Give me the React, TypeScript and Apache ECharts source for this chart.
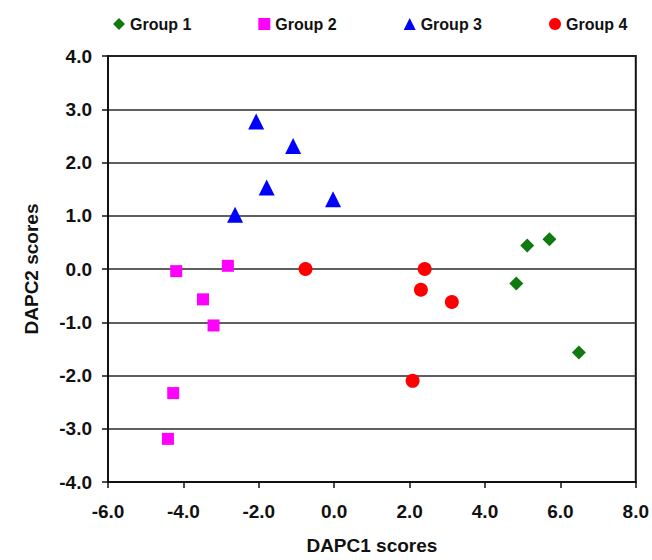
import React, { useEffect, useRef } from "react";
import * as echarts from "echarts";

const seriesNames = ["Group 1", "Group 2", "Group 3", "Group 4"];
const group1: number[][] = [[5.12, 0.44], [5.71, 0.56], [4.83, -0.27], [6.49, -1.57]];
const group2: number[][] = [[-4.19, -0.04], [-2.82, 0.06], [-3.48, -0.57], [-3.2, -1.06], [-4.27, -2.33], [-4.41, -3.19]];
const group3: number[][] = [[-2.07, 2.77], [-1.09, 2.31], [-1.79, 1.53], [-0.03, 1.31], [-2.63, 1.02]];
const group4: number[][] = [[-0.76, 0.0], [2.4, 0.0], [2.3, -0.39], [3.12, -0.62], [2.08, -2.1]];
const colors = ["#107a10", "#ff00ff", "#0000ff", "#ff0000"];
const symbols = ["diamond", "rect", "triangle", "circle"];
const sizes = [14, 12, 16, 14];

export default function App() {
  const ref = useRef<HTMLDivElement>(null);
  useEffect(() => {
    const chart = echarts.init(ref.current!, null, { renderer: "svg" });
    const font = "'Liberation Sans', Arial, sans-serif";
    const datasets = [group1, group2, group3, group4];
    chart.setOption({
      animation: false,
      backgroundColor: "#ffffff",
      textStyle: { fontFamily: font },
      legend: {
        top: 16,
        left: 113,
        padding: 0,
        itemGap: 67,
        itemWidth: 12,
        itemHeight: 12,
        textStyle: { fontFamily: font, fontWeight: "bold", fontSize: 16, color: "#111" },
        data: seriesNames.map((n, i) => ({ name: n, icon: symbols[i] })),
      },
      grid: {
        left: 108,
        right: 15,
        top: 56,
        bottom: 74,
        show: true,
        borderColor: "#111",
        borderWidth: 2,
      },
      xAxis: {
        type: "value",
        min: -6,
        max: 8,
        interval: 2,
        name: "DAPC1 scores",
        nameLocation: "middle",
        nameGap: 54,
        nameTextStyle: { fontFamily: font, fontWeight: "bold", fontSize: 19, color: "#111" },
        axisLine: { show: true, onZero: false, lineStyle: { color: "#111", width: 2 } },
        axisTick: { show: true, length: 6, lineStyle: { color: "#111", width: 1.5 } },
        axisLabel: {
          margin: 20,
          fontFamily: font,
          fontWeight: "bold",
          fontSize: 19,
          color: "#111",
          formatter: (v: number) => v.toFixed(1),
        },
        splitLine: { show: false },
      },
      yAxis: {
        type: "value",
        min: -4,
        max: 4,
        interval: 1,
        name: "DAPC2 scores",
        nameLocation: "middle",
        nameGap: 67,
        nameTextStyle: { fontFamily: font, fontWeight: "bold", fontSize: 19, color: "#111" },
        axisLine: { show: true, onZero: false, lineStyle: { color: "#111", width: 2 } },
        axisTick: { show: true, length: 6, lineStyle: { color: "#111", width: 1.5 } },
        axisLabel: {
          margin: 16,
          fontFamily: font,
          fontWeight: "bold",
          fontSize: 19,
          color: "#111",
          formatter: (v: number) => v.toFixed(1),
        },
        splitLine: { show: true, lineStyle: { color: "#2a2a2a", width: 1.5 } },
      },
      series: datasets.map((d, i) => ({
        name: seriesNames[i],
        type: "scatter",
        data: d,
        symbol: symbols[i],
        symbolSize: sizes[i],
        itemStyle: { color: colors[i], opacity: 1 },
      })),
    });
    return () => chart.dispose();
  }, []);
  return (
    <div
      ref={ref}
      style={{ position: "absolute", left: 0, top: 0, width: 652, height: 560 }}
    />
  );
}
